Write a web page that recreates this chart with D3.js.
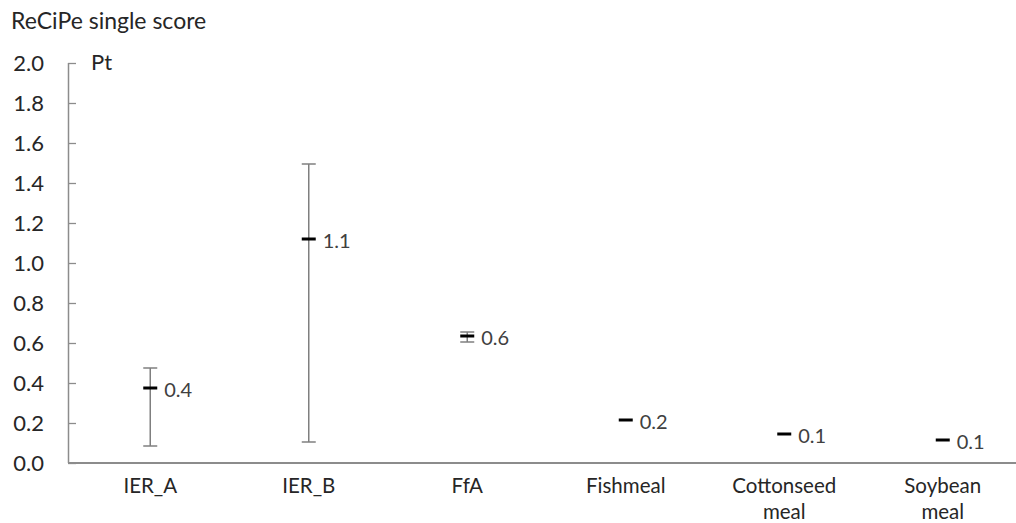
<!DOCTYPE html>
<html>
<head>
<meta charset="utf-8">
<script src="https://cdn.jsdelivr.net/npm/d3@7"></script>
<style>
  html, body { margin: 0; padding: 0; background: #fff; }
  svg { display: block; font-family: Lato, "Open Sans", sans-serif; }
</style>
</head>
<body>
<svg id="chart" width="1016" height="523"></svg>
<script>
// Feed ingredients and their ReCiPe single scores (Pt)
const categories = [["IER_A"], ["IER_B"], ["FfA"], ["Fishmeal"], ["Cottonseed", "meal"], ["Soybean", "meal"]];
const means = [0.375, 1.12, 0.635, 0.215, 0.145, 0.115];
const lows  = [0.085, 0.105, 0.605, null, null, null];
const highs = [0.475, 1.495, 0.655, null, null, null];
const yTicks = [0.0, 0.2, 0.4, 0.6, 0.8, 1.0, 1.2, 1.4, 1.6, 1.8, 2.0];

const svg = d3.select("#chart");
const axisColor = "#8c8c8c";
const textColor = "#262626";

const x = d3.scaleBand()
  .domain(categories.map(c => c.join(" ")))
  .range([71, 1022]);
const y = d3.scaleLinear().domain([0, 2]).range([463, 63]);

// Title and unit
svg.append("text").attr("x", 11).attr("y", 29)
  .attr("font-size", 23).attr("fill", textColor).text("ReCiPe single score");
svg.append("text").attr("x", 91).attr("y", 70)
  .attr("font-size", 22).attr("fill", textColor).text("Pt");

// Y axis with inward ticks
const yAxis = svg.append("g").attr("transform", "translate(68,0)")
  .call(d3.axisRight(y).tickValues(yTicks).tickSize(8).tickFormat(""));
yAxis.select(".domain").attr("stroke", axisColor).attr("stroke-width", 1.5)
  .attr("d", `M0.5,${y(2)}V${y(0)}`);
yAxis.selectAll(".tick line").attr("stroke", axisColor).attr("stroke-width", 1.3);

// Y tick labels, right aligned
svg.append("g").selectAll("text").data(yTicks).join("text")
  .attr("x", 44).attr("y", d => y(d)).attr("dy", "0.36em")
  .attr("text-anchor", "end").attr("font-size", 22).attr("fill", textColor)
  .text(d => d3.format(".1f")(d));

// X axis line
svg.append("line").attr("x1", 68).attr("x2", 1016)
  .attr("y1", y(0)).attr("y2", y(0))
  .attr("stroke", axisColor).attr("stroke-width", 2);

// Category labels (two lines where needed)
const catG = svg.append("g").selectAll("text").data(categories).join("text")
  .attr("x", d => x(d.join(" ")) + x.bandwidth() / 2)
  .attr("y", 493).attr("text-anchor", "middle")
  .attr("font-size", 20.5).attr("fill", textColor);
catG.selectAll("tspan").data(d => d).join("tspan")
  .attr("x", function () { return d3.select(this.parentNode).attr("x"); })
  .attr("dy", (d, i) => i === 0 ? 0 : 26)
  .text(d => d);

const cx = i => x(categories[i].join(" ")) + x.bandwidth() / 2;
const idx = d3.range(categories.length);

// Error bars (min–max range)
const eb = svg.append("g").selectAll("g").data(idx.filter(i => lows[i] !== null)).join("g")
  .attr("stroke", "#7f7f7f").attr("stroke-width", 1.5);
eb.append("line").attr("x1", cx).attr("x2", cx)
  .attr("y1", i => y(highs[i])).attr("y2", i => y(lows[i]));
eb.append("line").attr("x1", i => cx(i) - 7).attr("x2", i => cx(i) + 7)
  .attr("y1", i => y(highs[i])).attr("y2", i => y(highs[i]));
eb.append("line").attr("x1", i => cx(i) - 7).attr("x2", i => cx(i) + 7)
  .attr("y1", i => y(lows[i])).attr("y2", i => y(lows[i]));

// Mean markers
svg.append("g").selectAll("line").data(idx).join("line")
  .attr("x1", i => cx(i) - 7).attr("x2", i => cx(i) + 7)
  .attr("y1", i => y(means[i])).attr("y2", i => y(means[i]))
  .attr("stroke", "#000").attr("stroke-width", 3);

// Value labels
svg.append("g").selectAll("text").data(idx).join("text")
  .attr("x", i => cx(i) + 14).attr("y", i => y(means[i]))
  .attr("dy", "0.45em").attr("font-size", 20).attr("fill", "#404040")
  .text(i => d3.format(".1f")(means[i]));
</script>
</body>
</html>
